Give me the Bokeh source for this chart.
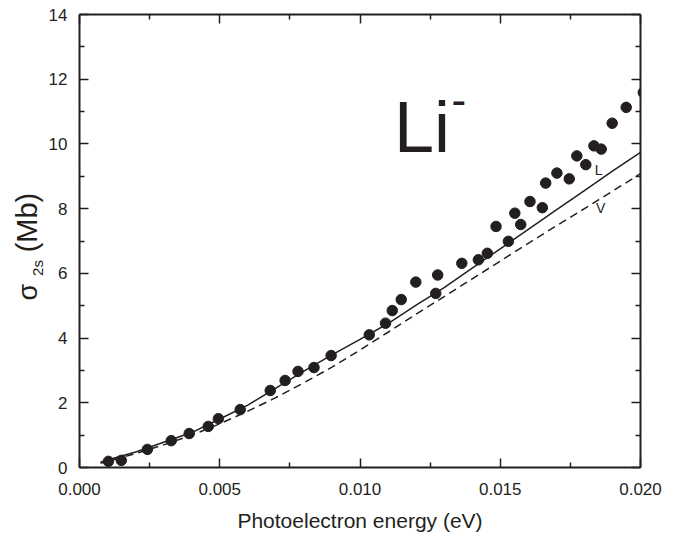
from bokeh.plotting import figure
from bokeh.layouts import row
from bokeh.models import LinearAxis, Range1d, FixedTicker, Label, NumeralTickFormatter, CustomJSTickFormatter
from bokeh.core.properties import value
from bokeh.embed import file_html
from bokeh.resources import INLINE
import math

# ---- data ----
x_pts = [0.00103, 0.00149, 0.00242, 0.00327, 0.00391, 0.00459, 0.00495, 0.00573, 0.0068, 0.00733,
         0.00779, 0.00836, 0.00897, 0.01033, 0.01091, 0.01115, 0.01147, 0.01199, 0.0127, 0.01277,
         0.01363, 0.01422, 0.01454, 0.01485, 0.01529, 0.01552, 0.01573, 0.01606, 0.0165, 0.01662,
         0.01702, 0.01746, 0.01773, 0.01805, 0.01834, 0.0186, 0.01899, 0.01949, 0.0201]
y_pts = [0.19, 0.22, 0.56, 0.83, 1.05, 1.27, 1.51, 1.79, 2.38, 2.69,
         2.97, 3.09, 3.46, 4.10, 4.46, 4.85, 5.19, 5.73, 5.38, 5.95,
         6.31, 6.42, 6.62, 7.45, 6.99, 7.86, 7.51, 8.22, 8.03, 8.79,
         9.10, 8.92, 9.63, 9.36, 9.94, 9.84, 10.64, 11.13, 11.59]

x_curve = [0.00075, 0.001, 0.002, 0.003, 0.004, 0.005, 0.006, 0.007, 0.008, 0.009, 0.010,
           0.011, 0.012, 0.013, 0.014, 0.015, 0.016, 0.017, 0.018, 0.019, 0.020]
y_L = [0.16, 0.23, 0.48, 0.78, 1.08, 1.50, 1.93, 2.45, 2.98, 3.48, 3.96,
       4.45, 5.02, 5.56, 6.16, 6.76, 7.36, 7.96, 8.56, 9.16, 9.74]
y_V = [0.13, 0.19, 0.43, 0.70, 1.00, 1.35, 1.74, 2.16, 2.62, 3.10, 3.63,
       4.18, 4.74, 5.28, 5.83, 6.38, 6.93, 7.47, 8.00, 8.54, 9.08]

x_ticks = [0.0, 0.005, 0.010, 0.015, 0.020]
y_ticks = [0, 2, 4, 6, 8, 10, 12, 14]
x_minor = [0.0025, 0.0075, 0.0125, 0.0175]
y_minor = [1, 3, 5, 7, 9, 11, 13]

INK = "#231f20"
FONT = "Liberation Sans"

# ---- main plot ----
p = figure(width=634, height=534, output_backend="svg", toolbar_location=None,
           x_range=Range1d(0, 0.020), y_range=Range1d(0, 14),
           min_border_left=33, min_border_right=39, min_border_top=14, min_border_bottom=67)
p.xgrid.visible = False
p.ygrid.visible = False
p.outline_line_color = None

xt = FixedTicker(ticks=x_ticks, minor_ticks=x_minor)
yt = FixedTicker(ticks=y_ticks, minor_ticks=y_minor)


def style(ax, show_labels):
    ax.axis_line_width = 2
    ax.axis_line_color = INK
    ax.major_tick_in = 9
    ax.major_tick_out = 0
    ax.minor_tick_in = 5
    ax.minor_tick_out = 0
    ax.major_tick_line_width = 1.5
    ax.minor_tick_line_width = 1.5
    ax.major_tick_line_color = INK
    ax.minor_tick_line_color = INK
    ax.major_label_text_font = FONT
    ax.major_label_text_font_size = "17px"
    ax.major_label_text_color = INK
    if not show_labels:
        ax.formatter = CustomJSTickFormatter(code="return ''")
        ax.major_label_standoff = 0


p.xaxis.ticker = xt
p.yaxis.ticker = yt
p.xaxis.formatter = NumeralTickFormatter(format="0.000")
style(p.xaxis[0], True)
style(p.yaxis[0], True)
p.xaxis.major_label_standoff = 15
p.yaxis.major_label_standoff = 12
p.xaxis.axis_label = "Photoelectron energy (eV)"
p.xaxis.axis_label_text_font = FONT
p.xaxis.axis_label_text_font_size = "21px"
p.xaxis.axis_label_text_font_style = "normal"
p.xaxis.axis_label_text_color = INK
p.xaxis.axis_label_standoff = 11

top = LinearAxis(ticker=xt)
style(top, False)
p.add_layout(top, "above")
right = LinearAxis(ticker=yt)
style(right, False)
p.add_layout(right, "right")

p.line(x_curve, y_L, line_color=INK, line_width=1.5)
p.line(x_curve, y_V, line_color=INK, line_width=1.5, line_dash="8 5")
p.scatter(x_pts, y_pts, size=10.5, color=INK)

# curve labels
p.add_layout(Label(x=0.01851, y=9.18, text="L", text_font=FONT, text_font_size="14px",
                   text_color=INK, text_align="center", text_baseline="middle"))
p.add_layout(Label(x=0.01858, y=8.03, text="V", text_font=FONT, text_font_size="14px",
                   text_color=INK, text_align="center", text_baseline="middle"))

# Li- annotation
p.add_layout(Label(x=0.01121, y=10.53, text="Li", text_font=FONT, text_font_size="72px",
                   text_color=INK, text_align="left", text_baseline="middle"))
p.add_layout(Label(x=0.01352, y=11.38, text="-", text_font=FONT, text_font_size="44px",
                   text_color=INK, text_align="center", text_baseline="middle"))

# ---- narrow panel carrying the rotated y-axis title sigma_2s (Mb) ----
# shares the main y range (its frame is aligned with the main frame in the row)
ylab = figure(width=45, height=534, output_backend="svg", toolbar_location=None,
              x_range=Range1d(0, 45), y_range=p.y_range,
              min_border_left=0, min_border_right=0,
              min_border_top=14, min_border_bottom=67)
ylab.axis.visible = False
ylab.xgrid.visible = False
ylab.ygrid.visible = False
ylab.outline_line_color = None
rot = math.pi / 2
ylab.text(x=[27.5], y=[5.42], text=["σ"], angle=rot, text_font=value(FONT), text_font_size="27px",
          text_color=INK, text_align="center", text_baseline="middle")
ylab.text(x=[36.8], y=[6.165], text=["2s"], angle=rot, text_font=value(FONT), text_font_size="15px",
          text_color=INK, text_align="center", text_baseline="middle")
ylab.text(x=[26.9], y=[7.57], text=["(Mb)"], angle=rot, text_font=value(FONT), text_font_size="29px",
          text_color=INK, text_align="center", text_baseline="middle")

layout = row(ylab, p, spacing=0)
open("out.html", "w").write(file_html(layout, INLINE))
